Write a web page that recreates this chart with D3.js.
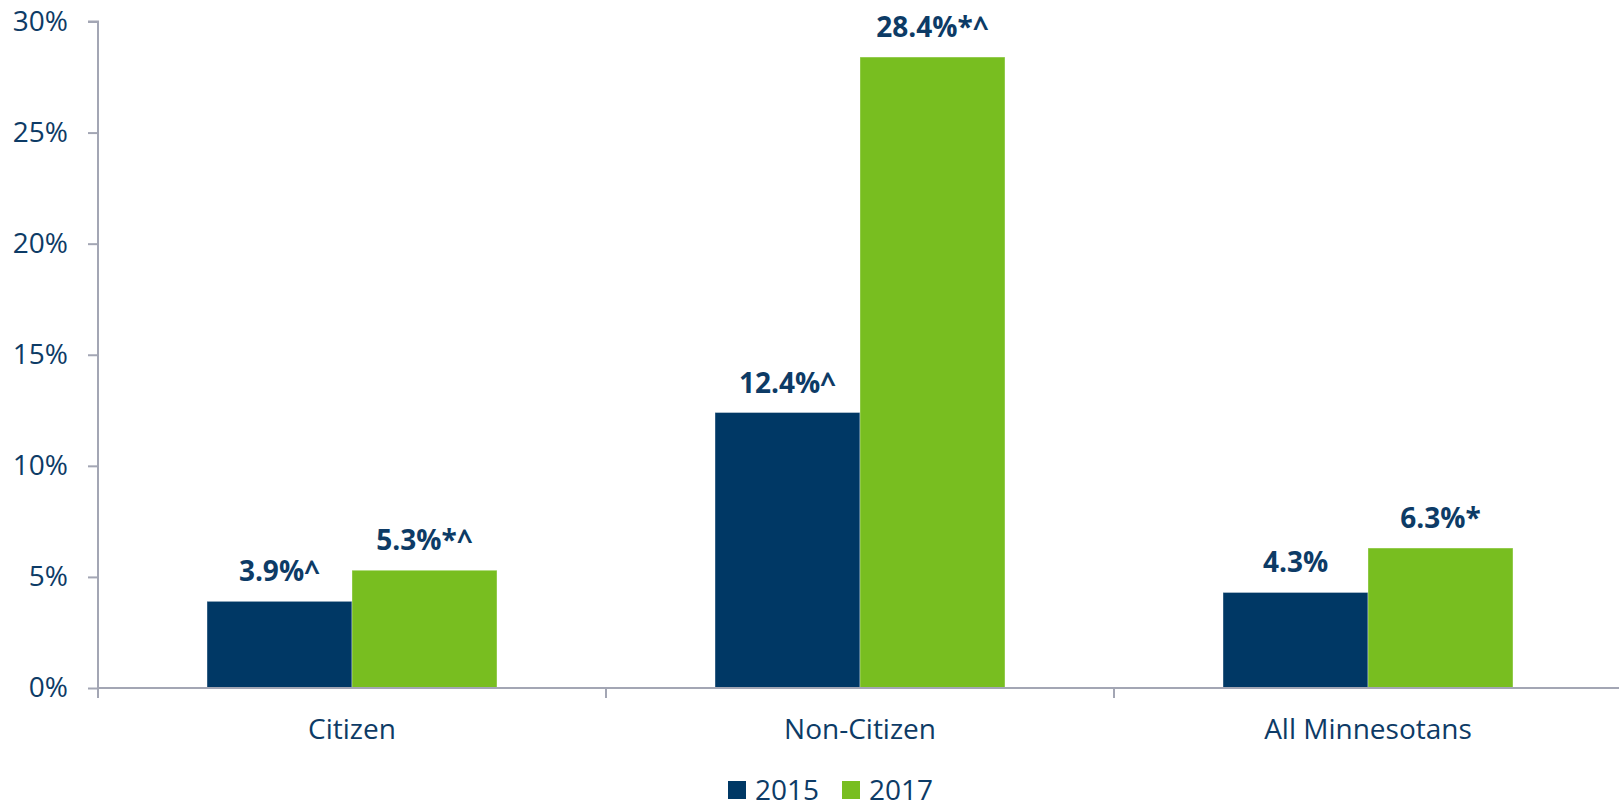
<!DOCTYPE html>
<html>
<head>
<meta charset="utf-8">
<script src="https://cdn.jsdelivr.net/npm/d3@7"></script>
<style>
  html, body { margin: 0; padding: 0; background: #fff; }
  svg { display: block; font-family: "Open Sans", sans-serif; }
</style>
</head>
<body>
<svg id="chart" width="1619" height="803"></svg>
<script>
const categories = ["Citizen", "Non-Citizen", "All Minnesotans"];
const seriesNames = ["2015", "2017"];
const values2015 = [3.9, 12.4, 4.3];
const values2017 = [5.3, 28.4, 6.3];
const labels2015 = ["3.9%^", "12.4%^", "4.3%"];
const labels2017 = ["5.3%*^", "28.4%*^", "6.3%*"];
const yTicks = [0, 5, 10, 15, 20, 25, 30];

const colors = { "2015": "#003865", "2017": "#78be20" };
const textColor = "#0d3b66";
const axisColor = "#a3a6b4";

const svg = d3.select("#chart");
const mLeft = 98, mRight = 1622, mTop = 21.5, mBottom = 688;

const x0 = d3.scaleBand().domain(categories).range([mLeft, mRight]).paddingInner(0).paddingOuter(0);
const x1 = d3.scaleBand().domain(seriesNames).range([0, x0.bandwidth()]).paddingInner(0).paddingOuter(0.752);
const y = d3.scaleLinear().domain([0, 30]).range([mBottom, mTop]);

const data = categories.map((c, i) => ({
  cat: c,
  bars: [
    { s: "2015", v: values2015[i], label: labels2015[i] },
    { s: "2017", v: values2017[i], label: labels2017[i] }
  ]
}));

// bars
const groups = svg.append("g").selectAll("g").data(data).join("g")
  .attr("transform", d => `translate(${x0(d.cat)},0)`);

groups.selectAll("rect").data(d => d.bars).join("rect")
  .attr("x", d => x1(d.s))
  .attr("y", d => y(d.v))
  .attr("width", x1.bandwidth())
  .attr("height", d => y(0) - y(d.v))
  .attr("fill", d => colors[d.s])
  .attr("stroke", "#ffffff")
  .attr("stroke-opacity", 0.35)
  .attr("stroke-width", 1);

groups.selectAll("text").data(d => d.bars).join("text")
  .attr("x", d => x1(d.s) + x1.bandwidth() / 2)
  .attr("y", d => y(d.v) - 20)
  .attr("text-anchor", "middle")
  .attr("font-size", 28)
  .attr("font-weight", 700)
  .attr("fill", textColor)
  .text(d => d.label);

// y axis
const yAxis = svg.append("g")
  .attr("transform", `translate(${mLeft},0)`)
  .call(d3.axisLeft(y).tickValues(yTicks).tickFormat(d => d + "%").tickSize(10).tickPadding(20));
yAxis.select(".domain").attr("stroke", axisColor).attr("stroke-width", 2)
  .attr("d", `M-10,${mTop}H0V${mBottom + 10}`);
yAxis.selectAll(".tick line").attr("stroke", axisColor).attr("stroke-width", 2);
yAxis.selectAll(".tick text").attr("font-size", 28).attr("fill", textColor)
  .attr("font-family", "Open Sans, sans-serif");

// x axis
const xAxis = svg.append("g")
  .attr("transform", `translate(0,${mBottom})`)
  .call(d3.axisBottom(x0).tickSize(0).tickPadding(0));
xAxis.select(".domain").attr("stroke", axisColor).attr("stroke-width", 2)
  .attr("d", `M${mLeft},0H${mRight}`);
xAxis.selectAll(".tick text").attr("font-size", 28).attr("fill", textColor)
  .attr("font-family", "Open Sans, sans-serif")
  .attr("y", 51).attr("dy", 0);
// category separators
svg.append("g").selectAll("line").data(categories.slice(1)).join("line")
  .attr("x1", d => x0(d)).attr("x2", d => x0(d))
  .attr("y1", mBottom).attr("y2", mBottom + 10)
  .attr("stroke", axisColor).attr("stroke-width", 2);

// legend
const legendX = [728, 842];
const legend = svg.append("g").selectAll("g").data(seriesNames).join("g")
  .attr("transform", (d, i) => `translate(${legendX[i]},781)`);
legend.append("rect").attr("width", 18).attr("height", 18).attr("fill", d => colors[d]);
legend.append("text").attr("x", 27).attr("y", 19)
  .attr("font-size", 28).attr("fill", textColor).text(d => d);
</script>
</body>
</html>
